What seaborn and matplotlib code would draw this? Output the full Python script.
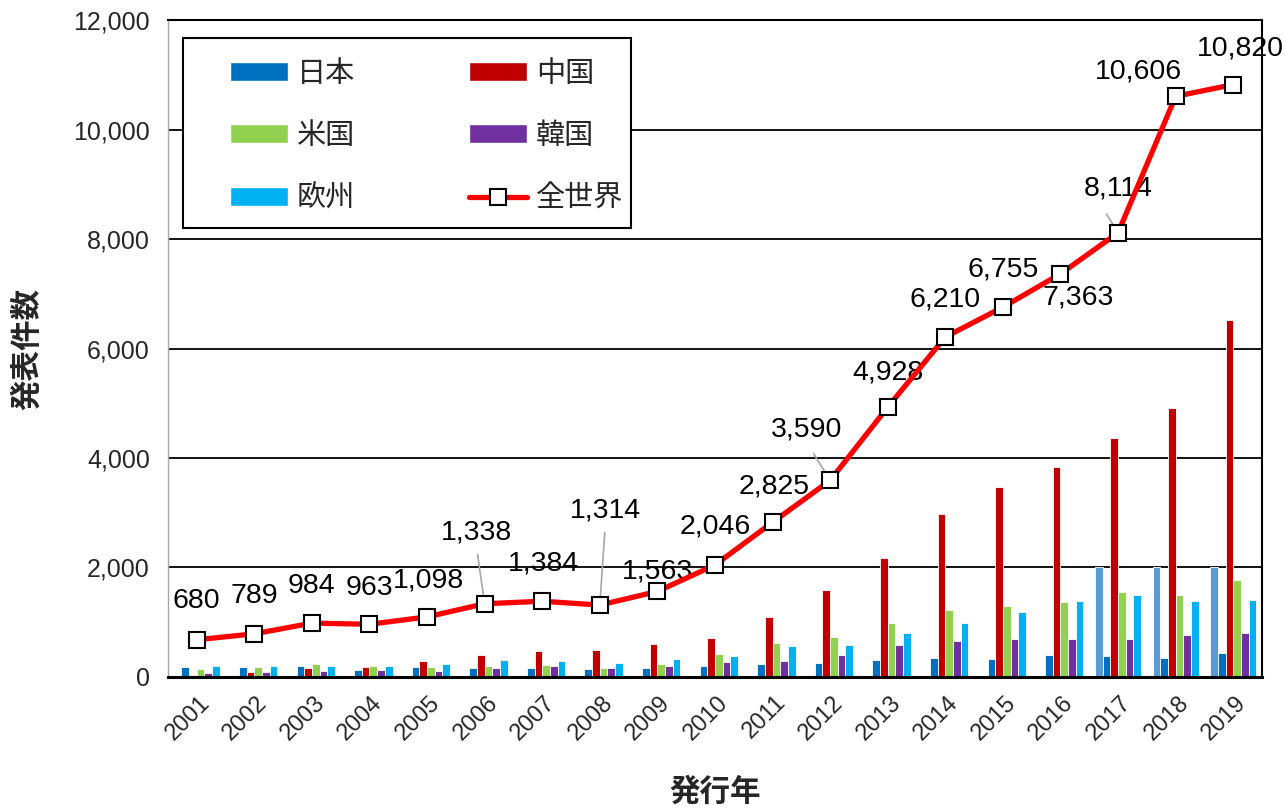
import numpy as np
import pandas as pd
import matplotlib
matplotlib.use("Agg")
import matplotlib.pyplot as plt
import seaborn as sns
from matplotlib.patches import Patch, Rectangle
from matplotlib.lines import Line2D
from matplotlib.transforms import ScaledTranslation

# ---- data -------------------------------------------------------------
years = ["2001", "2002", "2003", "2004", "2005", "2006", "2007", "2008", "2009", "2010",
         "2011", "2012", "2013", "2014", "2015", "2016", "2017", "2018", "2019"]
japan = [183, 180, 195, 135, 177, 159, 159, 140, 160, 207,
         237, 250, 305, 353, 335, 402, 384, 347, 432]
china = [45, 85, 160, 183, 292, 402, 470, 500, 603, 718,
         1102, 1583, 2173, 2983, 3477, 3842, 4360, 4908, 6520]
usa = [140, 183, 230, 207, 177, 201, 213, 170, 237, 415,
       615, 725, 980, 1218, 1303, 1364, 1552, 1497, 1772]
korea = [67, 90, 105, 135, 116, 170, 195, 170, 195, 274,
         287, 402, 590, 664, 694, 694, 694, 761, 798]
europe = [195, 195, 210, 195, 237, 305, 287, 262, 335, 390,
          560, 590, 798, 993, 1187, 1394, 1497, 1382, 1400]
reference = [0, 0, 0, 0, 0, 0, 0, 0, 0, 0,
             0, 0, 0, 0, 0, 0, 2000, 2000, 2000]
world = [680, 789, 984, 963, 1098, 1338, 1384, 1314, 1563, 2046,
         2825, 3590, 4928, 6210, 6755, 7363, 8114, 10606, 10820]

series_names = ["参考", "日本", "中国", "米国", "韓国", "欧州"]
series_values = [reference, japan, china, usa, korea, europe]
series_colors = ["#5B9BD5", "#0070C0", "#C00000", "#92D050", "#7030A0", "#00B0F0"]

# offsets (points) of the value labels of the world line, and leader-line settings
label_offsets = [(0, 28), (0, 27), (0, 27), (0, 26), (1, 26), (-6, 51), (1, 27), (4, 68),
                 (0, 14), (0, 28), (1, 26), (-17, 37), (0, 25), (0, 27), (0, 27),
                 (13, -17), (0, 32), (-27, 18), (5, 26)]
leaders = {5: (0.5, 4), 7: (0.5, 4), 11: (0.5, 7), 16: (0.22, 8)}

# ---- style ------------------------------------------------------------
sns.set_theme(style="white")
plt.rcParams["font.family"] = ["Liberation Sans", "Noto Sans CJK JP"]

fig = plt.figure(figsize=(12.85, 8.1), dpi=100)
ax = fig.add_axes([0.1307, 0.1642, 0.8514, 0.8111])

df = pd.DataFrame({
    "発行年": years * len(series_names),
    "件数": np.concatenate(series_values),
    "地域": np.repeat(series_names, len(years)),
})

sns.barplot(data=df, x="発行年", y="件数", hue="地域", hue_order=series_names,
            palette=series_colors, saturation=1, width=0.8, dodge=True,
            errorbar=None, edgecolor="white", linewidth=0.6, legend=False,
            ax=ax, zorder=2)

x_pos = np.arange(len(years))
sns.lineplot(x=x_pos, y=world, color="#FF0000", linewidth=3.8, marker="s",
             markersize=11, markerfacecolor="white", markeredgecolor="black",
             markeredgewidth=1.5, ax=ax, zorder=4)

# value labels for the world total
for i, (val, off) in enumerate(zip(world, label_offsets)):
    kw = {}
    if i in leaders:
        rx, shrink = leaders[i]
        kw["arrowprops"] = dict(arrowstyle="-", color="#A6A6A6", lw=1.2,
                                relpos=(rx, 0), shrinkA=shrink, shrinkB=0)
    ax.annotate(f"{val:,}", xy=(i, val), xytext=off, textcoords="offset points",
                ha="center", va="center", fontsize=20.5, color="black",
                zorder=3, **kw)

# axes
ax.set_xlim(-0.5, len(years) - 0.5)
ax.set_ylim(0, 12000)
ax.set_yticks(np.arange(0, 12001, 2000))
ax.set_yticklabels([f"{v:,}" for v in range(0, 12001, 2000)], fontsize=18)
ax.yaxis.grid(True, color="black", linewidth=1.3)
ax.xaxis.grid(False)
ax.set_axisbelow(True)
ax.tick_params(axis="both", length=0)
ax.tick_params(axis="y", pad=13)
ax.tick_params(axis="x", pad=16)

offset = ScaledTranslation(7 / 72, 0, fig.dpi_scale_trans)
for lab in ax.get_xticklabels():
    lab.set_rotation(45)
    lab.set_ha("right")
    lab.set_va("center")
    lab.set_rotation_mode("anchor")
    lab.set_fontsize(17)
    lab.set_transform(lab.get_transform() + offset)

ax.set_xlabel("発行年", fontsize=22, fontweight="bold", va="center")
ax.xaxis.set_label_coords(0.5, -0.176)
ax.set_ylabel("発表件数", fontsize=22, fontweight="bold", labelpad=22)

for side in ("top", "right"):
    ax.spines[side].set_visible(True)
    ax.spines[side].set_color("black")
    ax.spines[side].set_linewidth(1.5)
ax.spines["bottom"].set_color("black")
ax.spines["bottom"].set_linewidth(2.2)
ax.spines["left"].set_color("#A6A6A6")
ax.spines["left"].set_linewidth(1.0)

# legend box
ax.add_patch(Rectangle((0.0137, 0.6834), 0.4095, 0.2892, transform=ax.transAxes,
                       facecolor="white", edgecolor="black", linewidth=1.5,
                       zorder=5, clip_on=False))
handles = [Patch(facecolor=series_colors[1], label="日本"),
           Patch(facecolor=series_colors[3], label="米国"),
           Patch(facecolor=series_colors[5], label="欧州"),
           Patch(facecolor=series_colors[2], label="中国"),
           Patch(facecolor=series_colors[4], label="韓国"),
           Line2D([], [], color="#FF0000", linewidth=3.8, marker="s", markersize=11,
                  markerfacecolor="white", markeredgecolor="black",
                  markeredgewidth=1.5, label="全世界")]
leg = ax.legend(handles=handles, ncol=2, loc="upper left",
                bbox_to_anchor=(0.043, 0.9617), frameon=False, borderpad=0,
                fontsize=21, handlelength=2.0, handleheight=0.62,
                handletextpad=0.3, labelspacing=1.18, columnspacing=3.9)
leg.set_zorder(6)

fig.savefig("out.png", dpi=100, facecolor="white")
